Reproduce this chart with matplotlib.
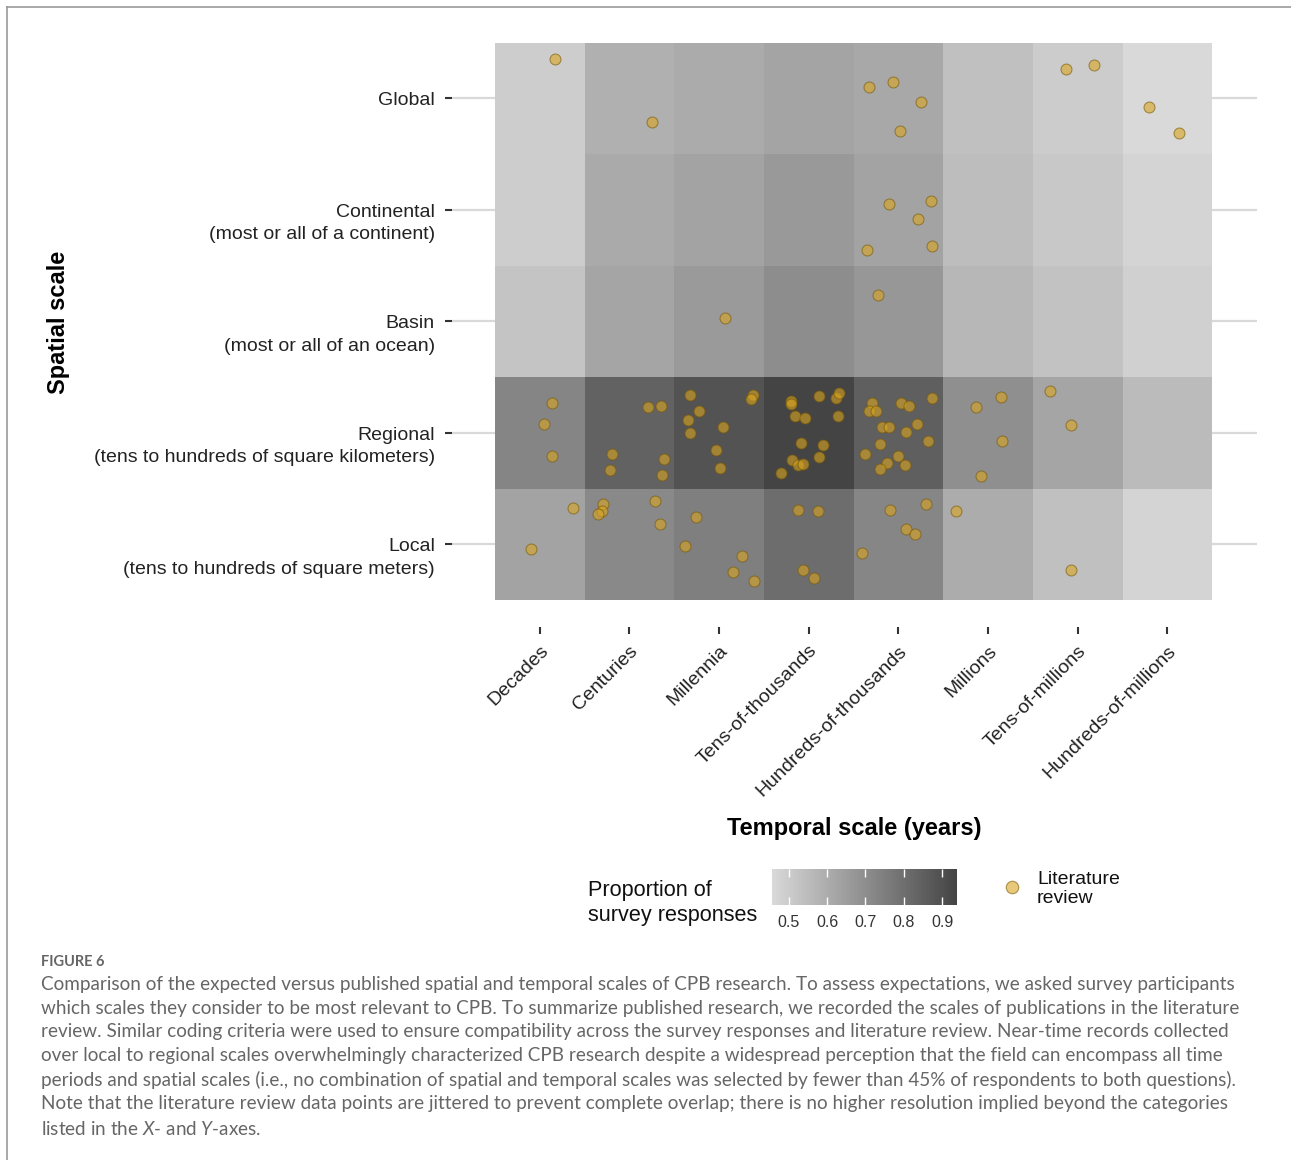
import numpy as np
import matplotlib.pyplot as plt
from matplotlib.colors import LinearSegmentedColormap
from matplotlib.lines import Line2D
from matplotlib.transforms import offset_copy

plt.rcParams['font.family'] = ['Liberation Sans', 'DejaVu Sans']
plt.rcParams['mathtext.fontset'] = 'custom'
plt.rcParams['mathtext.rm'] = 'Lato'
plt.rcParams['mathtext.it'] = 'Lato:italic'

W, H = 1291, 1160

# categories
temporal = ['Decades', 'Centuries', 'Millennia', 'Tens-of-thousands',
            'Hundreds-of-thousands', 'Millions', 'Tens-of-millions',
            'Hundreds-of-millions']
spatial = ['Local\n(tens to hundreds of square meters)',
           'Regional\n(tens to hundreds of square kilometers)',
           'Basin\n(most or all of an ocean)',
           'Continental\n(most or all of a continent)',
           'Global']

# proportion of survey responses (one list per spatial scale)
prop_local = [0.631, 0.715, 0.748, 0.806, 0.725, 0.602, 0.537, 0.472]
prop_regional = [0.728, 0.842, 0.890, 0.939, 0.851, 0.696, 0.624, 0.553]
prop_basin = [0.524, 0.624, 0.660, 0.702, 0.670, 0.566, 0.531, 0.485]
prop_continental = [0.495, 0.608, 0.631, 0.663, 0.631, 0.547, 0.511, 0.472]
prop_global = [0.495, 0.589, 0.605, 0.628, 0.615, 0.537, 0.501, 0.456]

# literature review records (jittered category positions)
lit_x = [1.17, 2.25, 4.67, 4.94, 5.25, 5.02, 6.87, 7.18, 7.80, 8.13,
         4.90, 5.36, 5.22, 4.65, 5.38,
         4.77, 3.06,
         1.14, 1.05, 1.13, 2.21, 2.35, 1.80, 1.78, 2.38, 2.36,
         2.67, 2.78, 2.65, 2.67, 3.04, 2.96, 3.01, 3.38, 3.36,
         3.80, 3.80, 4.11, 4.30, 4.34, 3.85, 3.96, 4.33, 3.91, 4.16,
         3.81, 4.11, 3.88, 3.93, 3.69,
         4.70, 4.67, 4.75, 5.03, 5.12, 5.37, 4.82, 4.90, 5.09, 5.21,
         4.80, 5.33, 4.63, 4.99, 4.87, 4.80, 5.07,
         5.86, 6.14, 6.16, 5.92, 6.69, 6.92,
         0.90, 1.37, 1.70, 1.69, 1.65, 2.28, 2.34, 2.74, 2.62, 3.26,
         3.16, 3.39, 3.88, 4.10, 3.93, 4.06, 4.91, 5.31, 5.08, 5.18,
         4.59, 5.64, 6.93]
lit_y = [5.35, 4.79, 5.10, 5.15, 4.97, 4.71, 5.26, 5.30, 4.92, 4.69,
         4.05, 4.08, 3.92, 3.64, 3.68,
         3.24, 3.03,
         2.27, 2.08, 1.79, 2.23, 2.24, 1.81, 1.67, 1.77, 1.62,
         2.34, 2.20, 2.12, 2.00, 2.05, 1.85, 1.69, 2.34, 2.30,
         2.29, 2.26, 2.33, 2.31, 2.36, 2.15, 2.13, 2.15, 1.91, 1.89,
         1.76, 1.78, 1.71, 1.72, 1.64,
         2.27, 2.20, 2.20, 2.27, 2.24, 2.31, 2.05, 2.05, 2.01, 2.08,
         1.90, 1.93, 1.81, 1.79, 1.73, 1.68, 1.71,
         2.23, 2.32, 1.93, 1.61, 2.38, 2.07,
         0.96, 1.33, 1.36, 1.30, 1.27, 1.39, 1.18, 1.25, 0.99, 0.90,
         0.75, 0.67, 1.31, 1.30, 0.77, 0.70, 1.31, 1.36, 1.14, 1.09,
         0.92, 1.30, 0.77]

caption = (
    "Comparison of the expected versus published spatial and temporal scales of CPB research. To assess expectations, we asked survey participants\n"
    "which scales they consider to be most relevant to CPB. To summarize published research, we recorded the scales of publications in the literature\n"
    "review. Similar coding criteria were used to ensure compatibility across the survey responses and literature review. Near-time records collected\n"
    "over local to regional scales overwhelmingly characterized CPB research despite a widespread perception that the field can encompass all time\n"
    "periods and spatial scales (i.e., no combination of spatial and temporal scales was selected by fewer than 45% of respondents to both questions).\n"
    "Note that the literature review data points are jittered to prevent complete overlap; there is no higher resolution implied beyond the categories\n"
    "listed in the $X$- and $Y$-axes."
)

prop = np.array([prop_local, prop_regional, prop_basin, prop_continental, prop_global])
cmap = LinearSegmentedColormap.from_list('greys', ['#d9d9d9', '#444444'])

fig = plt.figure(figsize=(W / 100, H / 100), dpi=100)


def fpos(x0, y0, x1, y1):
    # pixel box -> figure fraction [left, bottom, width, height]
    return [x0 / W, 1 - y1 / H, (x1 - x0) / W, (y1 - y0) / H]


ax = fig.add_axes(fpos(452, 18, 1257, 627))
xe = np.arange(len(temporal) + 1) + 0.5
ye = np.arange(len(spatial) + 1) + 0.5
mesh = ax.pcolormesh(xe, ye, prop, cmap=cmap, zorder=2)
ax.scatter(lit_x, lit_y, s=62, facecolor='#DAA520', edgecolor='#7a5a08',
           linewidth=0.8, alpha=0.6, zorder=3)

ax.set_xlim(0.02, 9.0)
ax.set_ylim(0.26, 5.72)
ax.set_xticks(np.arange(1, len(temporal) + 1))
ax.set_xticklabels(temporal, rotation=45, ha='right', rotation_mode='anchor')
ax.set_yticks(np.arange(1, len(spatial) + 1))
ax.set_yticklabels([])
ax.tick_params(axis='both', length=5, width=1.5, color='#333333',
               labelsize=14, labelcolor='#222222')
ax.tick_params(axis='x', pad=6)

# y tick labels: first line sits on the tick, second line hangs below
ytrans = offset_copy(ax.get_yaxis_transform(), fig=fig, x=-17, y=6, units='dots')
for yv, lab in zip(ax.get_yticks(), spatial):
    ax.text(0, yv, lab, transform=ytrans, ha='right', va='top', fontsize=14,
            color='#222222', linespacing=1.4)

for s in ax.spines.values():
    s.set_visible(False)
ax.grid(axis='y', color='#d9d9d9', linewidth=1.6, zorder=0)
ax.set_axisbelow(True)
ax.set_xlabel('Temporal scale (years)', fontsize=17, fontweight='bold', labelpad=13)
ax.set_ylabel('Spatial scale', fontsize=17, fontweight='bold')
ax.yaxis.set_label_coords((70 - 452) / (1257 - 452), 0.5)

# colorbar legend
cax = fig.add_axes(fpos(772, 869, 957, 905))
cb = fig.colorbar(mesh, cax=cax, orientation='horizontal')
cb.outline.set_visible(False)
cb.set_ticks([0.5, 0.6, 0.7, 0.8, 0.9])
cax.tick_params(axis='x', direction='in', length=6, width=1, color='white',
                labelsize=11.5, labelcolor='#333333', top=True, bottom=True, pad=7)
fig.text(588 / W, 1 - 903 / H, 'Proportion of\nsurvey responses', fontsize=15.6,
         ha='left', va='center', linespacing=1.3, color='#111111')

# point legend
fig.add_artist(Line2D([1012 / W], [1 - 887 / H], marker='o', markersize=9,
                      markerfacecolor='#DAA520', markeredgecolor='#7a5a08',
                      markeredgewidth=0.8, alpha=0.6, linestyle='none'))
fig.text(1037 / W, 1 - 889 / H, 'Literature\nreview', fontsize=14,
         ha='left', va='center', linespacing=1.15, color='#111111')

# caption
fig.text(41 / W, 1 - 962 / H, 'FIGURE 6', fontsize=10.5, family='Lato',
         fontweight='bold', color='#666666', va='center')
fig.text(41 / W, 1 - 976 / H, caption, fontsize=13.6, family='Lato',
         color='#666666', va='top', linespacing=1.47)

# frame
fig.add_artist(Line2D([7 / W, 1], [1 - 7 / H, 1 - 7 / H], color='#999999', linewidth=1.2))
fig.add_artist(Line2D([7 / W, 7 / W], [0, 1 - 7 / H], color='#999999', linewidth=1.2))

fig.savefig('out.png', dpi=100)
